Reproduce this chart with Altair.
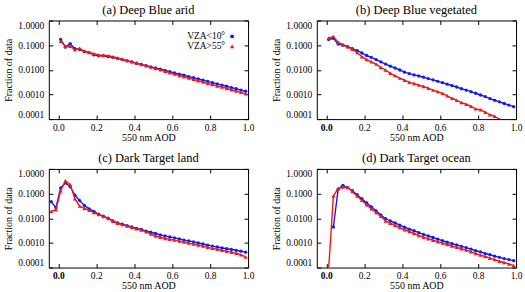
import altair as alt
import pandas as pd

FONT = "Liberation Serif, Times New Roman, Times, serif"
SERIES = ["VZA<10°", "VZA>55°"]
COLORS = ["#1a1ae6", "#e81a1a"]
SHAPES = ["circle", "triangle-up"]
SIZES = [11, 16]

TITLES = ["(a) Deep Blue arid", "(b) Deep Blue vegetated",
          "(c) Dark Target land", "(d) Dark Target ocean"]
X_TICKS = [0.0, 0.2, 0.4, 0.6, 0.8, 1.0]
Y_TICKS = [0.0001, 0.001, 0.01, 0.1, 1.0]

X_NEG = [-0.0375, -0.0125]
X_BINS = [0.0125, 0.0375, 0.0625, 0.0875, 0.1125, 0.1375, 0.1625, 0.1875,
          0.2125, 0.2375, 0.2625, 0.2875, 0.3125, 0.3375, 0.3625, 0.3875,
          0.4125, 0.4375, 0.4625, 0.4875, 0.5125, 0.5375, 0.5625, 0.5875,
          0.6125, 0.6375, 0.6625, 0.6875, 0.7125, 0.7375, 0.7625, 0.7875,
          0.8125, 0.8375, 0.8625, 0.8875, 0.9125, 0.9375, 0.9625, 0.9875]

# (a) Deep Blue arid
A_BLUE = [0.17, 0.083, 0.115, 0.072, 0.066, 0.056, 0.050, 0.040,
          0.037, 0.037, 0.034, 0.032, 0.029, 0.026, 0.023, 0.021,
          0.0185, 0.0165, 0.0148, 0.0132, 0.0118, 0.0106, 0.0094, 0.0084,
          0.0075, 0.0067, 0.0060, 0.0053, 0.0048, 0.0043, 0.0038, 0.0034,
          0.0030, 0.0027, 0.0024, 0.00215, 0.0019, 0.0017, 0.0015, 0.00135]
A_RED = [0.145, 0.09, 0.09, 0.065, 0.075, 0.055, 0.050, 0.045,
         0.040, 0.039, 0.037, 0.034, 0.030, 0.027, 0.024, 0.021,
         0.0185, 0.0163, 0.0145, 0.0128, 0.0113, 0.0099, 0.0087, 0.0076,
         0.0067, 0.0059, 0.0052, 0.0046, 0.0041, 0.0036, 0.0032, 0.0028,
         0.0025, 0.0022, 0.0020, 0.00175, 0.00155, 0.00138, 0.00122, 0.00108]

# (b) Deep Blue vegetated
B_BLUE = [0.17, 0.19, 0.11, 0.10, 0.087, 0.072, 0.060, 0.048,
          0.038, 0.032, 0.026, 0.021, 0.017, 0.014, 0.0118, 0.0098,
          0.0080, 0.0070, 0.0062, 0.0056, 0.0050, 0.0044, 0.0039, 0.0034,
          0.0030, 0.0026, 0.0023, 0.0020, 0.0017, 0.0015, 0.0013, 0.00112,
          0.00095, 0.00082, 0.00068, 0.00058, 0.00050, 0.00043, 0.00037, 0.00032]
B_RED = [0.195, 0.225, 0.13, 0.105, 0.085, 0.068, 0.050, 0.034,
         0.026, 0.021, 0.017, 0.0125, 0.0098, 0.0072, 0.0058, 0.0046,
         0.0038, 0.0031, 0.0028, 0.0024, 0.0021, 0.0018, 0.0015, 0.0013,
         0.0011, 0.00088, 0.00070, 0.00058, 0.00047, 0.00040, 0.00033, 0.00026,
         0.00024, 0.00019, 0.00015, 0.00013, 0.000098]

# (c) Dark Target land (starts at negative AOD)
C_BLUE = [0.047, 0.027,
          0.17, 0.27, 0.19, 0.086, 0.052, 0.033, 0.024, 0.019,
          0.0145, 0.012, 0.010, 0.0078, 0.0064, 0.0057, 0.0050, 0.0044,
          0.0039, 0.0035, 0.0030, 0.0027, 0.0024, 0.0021, 0.0019, 0.00175,
          0.0016, 0.00145, 0.0013, 0.0012, 0.0011, 0.00100, 0.00090, 0.00081,
          0.00074, 0.00068, 0.00062, 0.00058, 0.00054, 0.00050, 0.00046, 0.00042]
C_RED = [0.019, 0.022,
         0.13, 0.33, 0.23, 0.062, 0.031, 0.025, 0.021, 0.017,
         0.0142, 0.0118, 0.0098, 0.0076, 0.0062, 0.0055, 0.0048, 0.0042,
         0.0037, 0.0033, 0.0028, 0.0023, 0.0019, 0.0017, 0.0015, 0.0014,
         0.0013, 0.00118, 0.00108, 0.00098, 0.00090, 0.00082, 0.00074, 0.00066,
         0.00060, 0.00055, 0.00050, 0.00046, 0.00042, 0.00038, 0.00033, 0.00027]

# (d) Dark Target ocean (blue starts at second bin)
D_BLUE = [0.0044, 0.15, 0.215, 0.175, 0.13, 0.09, 0.062,
          0.042, 0.029, 0.020, 0.0135, 0.0095, 0.0078, 0.0064, 0.0052,
          0.0043, 0.0036, 0.0031, 0.0026, 0.0022, 0.0019, 0.00165, 0.00142,
          0.00122, 0.00106, 0.00093, 0.00082, 0.00072, 0.00064, 0.00056, 0.00048,
          0.00043, 0.00037, 0.00033, 0.00029, 0.00026, 0.00023, 0.00021, 0.00019]
D_RED = [0.00009, 0.079, 0.16, 0.185, 0.18, 0.12, 0.08, 0.053,
         0.035, 0.024, 0.017, 0.012, 0.0077, 0.0063, 0.0051, 0.0042,
         0.0034, 0.0029, 0.0024, 0.0020, 0.0017, 0.00148, 0.00128, 0.00112,
         0.00098, 0.00086, 0.00075, 0.00066, 0.00058, 0.00051, 0.00044, 0.00037,
         0.00032, 0.00028, 0.00024, 0.00021, 0.00018, 0.00016, 0.00014, 0.00012]


def make_df(xb, blue, xr, red):
    rows = [{"aod": x, "frac": v, "series": SERIES[0]} for x, v in zip(xb, blue)]
    rows += [{"aod": x, "frac": v, "series": SERIES[1]} for x, v in zip(xr, red)]
    return pd.DataFrame(rows)


DATA = [
    make_df(X_BINS, A_BLUE, X_BINS, A_RED),
    make_df(X_BINS, B_BLUE, X_BINS[:len(B_RED)], B_RED),
    make_df(X_NEG + X_BINS, C_BLUE, X_NEG + X_BINS, C_RED),
    make_df(X_BINS[1:], D_BLUE, X_BINS, D_RED),
]

XS = alt.Scale(domain=[-0.05, 1.0], nice=False, zero=False)
YS = alt.Scale(type="log", domain=[0.0001, 1.0], nice=False)


def panel(i, legend=False, bold0=False):
    df = DATA[i]
    xkw = dict(values=X_TICKS, format=".1f", orient="bottom", offset=-4,
               tickSize=4, domain=False, labelPadding=3, title="550 nm AOD",
               titlePadding=1, labelFlush=False)
    if bold0:
        xkw["labelFontWeight"] = {"condition": {"test": "datum.value == 0", "value": "bold"},
                                  "value": "normal"}
    xaxis = alt.Axis(**xkw)
    yaxis = alt.Axis(values=Y_TICKS, format=".4f", orient="left", offset=-4,
                     tickSize=4, domain=False, labelPadding=5, labelFlush=True,
                     title="Fraction of data", titlePadding=4)
    base = alt.Chart(df)
    layers = []
    # frame ticks on top and right
    layers.append(base.mark_point(opacity=0).encode(
        x=alt.X("aod:Q", scale=XS, axis=alt.Axis(values=X_TICKS, orient="top", offset=-4,
                                                  tickSize=4, domain=False, labels=False,
                                                  title=None)),
        y=alt.Y("frac:Q", scale=YS, axis=alt.Axis(values=Y_TICKS, orient="right", offset=-4,
                                                   tickSize=4, domain=False, labels=False,
                                                   title=None)),
    ))
    first = True
    for s, c, sh, sz in zip(SERIES, COLORS, SHAPES, SIZES):
        sub = base.transform_filter(alt.datum.series == s)
        layers.append(sub.mark_line(color=c, strokeWidth=1.4, clip=True).encode(
            x=alt.X("aod:Q", scale=XS, axis=xaxis if first else None),
            y=alt.Y("frac:Q", scale=YS, axis=yaxis if first else None),
            order="aod:Q",
        ))
        first = False
        layers.append(sub.mark_point(color=c, filled=True, opacity=1, shape=sh, size=sz,
                                     clip=True).encode(
            x=alt.X("aod:Q", scale=XS, axis=None),
            y=alt.Y("frac:Q", scale=YS, axis=None),
        ))
    if legend:
        for j in range(2):
            ldf = pd.DataFrame({"label": [SERIES[j]]})
            layers.append(alt.Chart(ldf).mark_text(align="right", baseline="middle",
                                                   font=FONT, fontSize=9.5, color="black").encode(
                x=alt.value(177), y=alt.value(16 + 10 * j), text="label:N"))
            layers.append(alt.Chart(ldf).mark_point(filled=True, opacity=1, color=COLORS[j],
                                                    shape=SHAPES[j], size=SIZES[j] + 4).encode(
                x=alt.value(184), y=alt.value(16 + 10 * j)))
    return alt.layer(*layers).resolve_axis(x="independent", y="independent").properties(
        width=200, height=99,
        title=alt.TitleParams(TITLES[i], font=FONT, fontSize=12.5, fontWeight="normal",
                              offset=4, color="black"))


chart = alt.concat(
    panel(0, legend=True), panel(1, bold0=True), panel(2, bold0=True), panel(3, bold0=True),
    columns=2, spacing={"row": 50, "column": 69}, bounds="flush",
).properties(
    padding={"left": 3, "top": 2, "right": 2, "bottom": 0}, background="white"
).configure_view(
    stroke="black", strokeWidth=1
).configure_axis(
    labelFont=FONT, titleFont=FONT, labelFontSize=9.5, titleFontSize=10,
    titleFontWeight="normal", labelColor="black", titleColor="black",
    tickColor="black", grid=False
).configure_title(font=FONT, fontWeight="normal", color="black")

chart.save("out.html", embed_options={"renderer": "svg", "actions": False})
